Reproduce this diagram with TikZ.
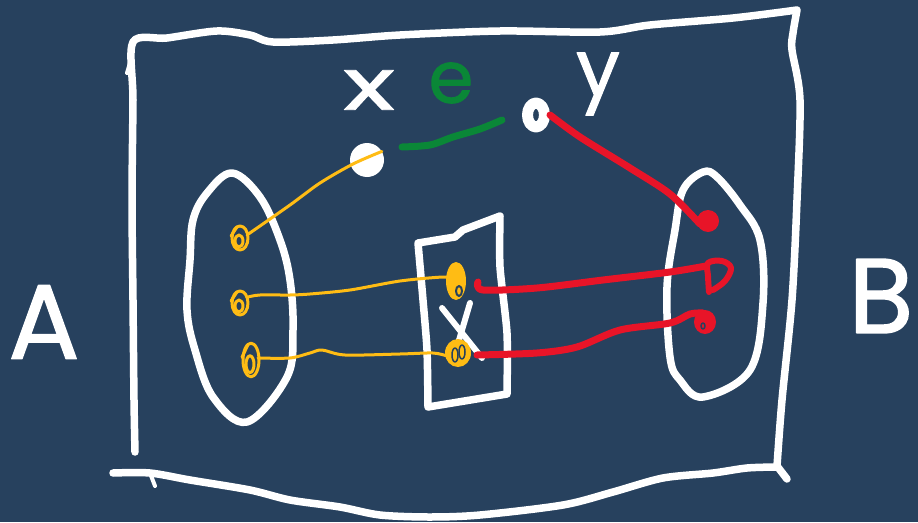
\documentclass[tikz,border=0pt]{standalone}
\usepackage{fontspec}
\setmainfont{Poppins}
\newfontfamily\chalkfont{Poppins}[FakeBold=1.3]
\usetikzlibrary{shapes.geometric}
\definecolor{bg}{RGB}{39,65,94}
\definecolor{yel}{RGB}{255,188,20}
\definecolor{rd}{RGB}{232,20,40}
\definecolor{gr}{RGB}{10,135,55}
\begin{document}
\begin{tikzpicture}[x=1pt,y=-1pt,line cap=round,line join=round,
  chalk/.style={draw=white,line width=7.5pt},
  ywire/.style={draw=yel,line width=3pt},
  rwire/.style={draw=rd,line width=7pt},
  gwire/.style={draw=gr,line width=7pt},
  port/.style={circle,inner sep=0pt,minimum size=18pt},
  biglab/.style={text=white,inner sep=0pt,font=\fontsize{106}{106}\selectfont\chalkfont},
  smalllab/.style={inner sep=0pt,font=\fontsize{72}{72}\selectfont\chalkfont},
  yblob/.pic={\draw[ywire] (0,0) ellipse [x radius=8, y radius=12];
              \draw[ywire] (-1,3) ellipse [x radius=4, y radius=6];
              \draw[ywire] (-9,-2) -- (-3,-11);}]
\fill[bg] (0,0) rectangle (918,522);
\useasboundingbox (0,0) rectangle (918,522);

% outer frame
\draw[chalk] plot[smooth,tension=0.5] coordinates {(135,452) (134,400) (133,300) (132,200) (133,100) (133,42)
  (167,38) (217,31) (250,35) (273,42) (333,40) (400,35) (500,31) (600,32) (650,25) (733,18) (797,10)}
  plot[smooth,tension=0.5] coordinates {(797,10) (793,33) (792,50) (800,100) (797,200) (792,300) (782,400) (777,466)};
\draw[chalk] (777,466) -- (787,479);
\draw[chalk] plot[smooth,tension=0.5] coordinates {(113,473) (150,473) (190,480) (250,490) (290,500) (340,507)
  (380,515) (430,517) (480,515) (563,505) (613,492) (663,478) (713,473) (747,468) (777,467)};
\draw[white,line width=4pt] (150,473) -- (155,486);
\draw[white,line width=4pt] (130,63) -- (127,73);

% sets
\draw[chalk] plot[smooth cycle,tension=0.6] coordinates {(232,173) (260,197) (280,240) (290,280) (293,330)
  (287,377) (247,422) (213,397) (195,350) (187,310) (190,260) (193,220) (207,193)};
\draw[chalk] plot[smooth cycle,tension=0.6] coordinates {(703,172) (717,177) (740,205) (760,240) (763,303)
  (750,370) (703,397) (680,380) (670,357) (667,287) (675,230) (683,190)};

% middle box X
\draw[chalk] plot[smooth,tension=0.3] coordinates {(418,243) (455,237)} -- (463,230) -- (500,216)
  plot[smooth,tension=0.4] coordinates {(500,216) (500,267) (507,333) (507,394)} -- (428,407)
  plot[smooth,tension=0.4] coordinates {(428,407) (427,350) (423,300) (418,243)};
\draw[white,line width=6pt] (442,308) -- (482,358);
\draw[white,line width=6pt] (470,303) -- (457,347);

% vertices
\node[port] (L1) at (240,238) {};
\node[port] (L2) at (240,303) {};
\node[port] (L3) at (251,360) {};
\node[port] (M1) at (456,281) {};
\node[port] (M2) at (458,353) {};
\node[port] (R1) at (708,221) {};
\node[port] (R2) at (718,276) {};
\node[port] (R3) at (705,322) {};
\node[circle,fill=white,inner sep=0pt,minimum size=34pt] (X) at (367,160) {};
\node[ellipse,draw=white,line width=11pt,inner sep=0pt,minimum width=17pt,minimum height=24pt] (Y) at (536,115) {};
\coordinate (g1) at (402,147);
\coordinate (g2) at (502,120);

% labels
\node[biglab] (A) at (44,322) {A};
\node[biglab] (B) at (881,296) {B};
\node[smalllab,text=white] (xl) at (369,90) {\scalebox{1.5}[1]{x}};
\node[smalllab,text=gr] (el) at (451,83) {e};
\node[smalllab,text=white,font=\fontsize{78}{78}\selectfont\chalkfont] (yl) at (598,84) {y};

% green edge
\draw[gwire] plot[smooth] coordinates {(g1) (430,145) (453,137) (480,129) (g2)};

% yellow wires
\draw[ywire] plot[smooth] coordinates {(X.30) (353,164) (320,183) (290,205) (247,235)};
\draw[ywire] plot[smooth] coordinates {(248,297) (260,295) (290,295) (310,294) (350,290) (400,281) (443,277) (450,279)};
\draw[ywire] plot[smooth] coordinates {(258,358) (290,358) (310,353) (322,350) (345,355) (400,354) (433,353) (447,356)};
\pic at (L1) {yblob};
\pic at (L2) {yblob};
\pic[yscale=1.4] at (L3) {yblob};
\fill[yel] (M1) ellipse [x radius=10, y radius=19];
\draw[bg,line width=2pt] (459,291) ellipse [x radius=3, y radius=5];
\fill[yel] (M2) ellipse [x radius=13, y radius=14];
\draw[bg,line width=1.5pt] (455,355) ellipse [x radius=3, y radius=7];
\draw[bg,line width=1.5pt] (462,352) ellipse [x radius=3, y radius=7];

% red wires
\draw[rwire] plot[smooth,tension=0.5] coordinates {(Y.east) (580,137) (630,168) (670,194) (700,224)};
\fill[rd] (R1) circle [radius=11];
\draw[rwire] plot[smooth] coordinates {(478,282) (483,290) (537,288) (603,280) (670,272) (706,266)};
\draw[rd,line width=6pt] plot[smooth,tension=0.6] coordinates {(709,292) (708,276) (708,263) (722,261) (731,268) (725,281) (713,290)};
\draw[rwire] plot[smooth] coordinates {(477,355) (537,353) (577,347) (620,330) (670,323) (690,314) (703,313)};
\fill[rd] (R3) ellipse [x radius=11, y radius=12];
\draw[bg,line width=1.5pt] (703,326) ellipse [x radius=2, y radius=3];
\end{tikzpicture}
\end{document}
